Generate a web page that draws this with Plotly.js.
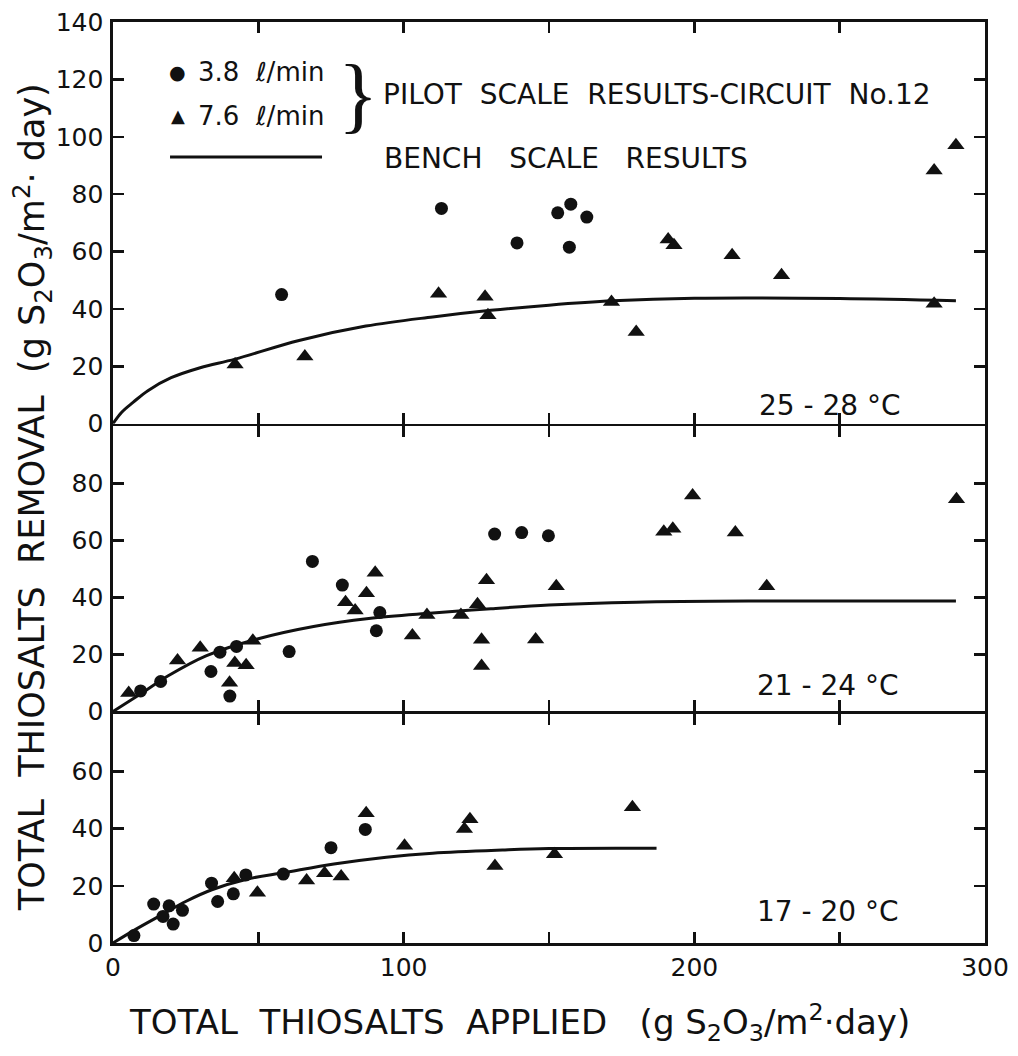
<!DOCTYPE html>
<html>
<head>
<meta charset="utf-8">
<script src="https://cdn.plot.ly/plotly-3.0.1.min.js"></script>
<style>html,body{margin:0;padding:0;background:#fff;}</style>
</head>
<body>
<div id="chart" style="width:1018px;height:1056px;"></div>
<script>
// ---- Panel 1: 25-28 °C ----
const topCircleX = [58, 113, 139, 153, 157.5, 157, 163];
const topCircleY = [45, 75, 63, 73.5, 76.5, 61.5, 72];
const topTriX = [42, 66, 112, 128, 129, 171.5, 180, 191, 193, 213, 230, 282.5, 290, 282.5];
const topTriY = [20.6, 23.4, 45.3, 44.2, 37.8, 42.4, 31.9, 64.2, 62.2, 58.7, 51.7, 88.2, 97, 41.8];
const topBenchX = [0, 3, 7, 12, 20, 30, 42, 64, 87, 110, 130, 150, 172, 200, 250, 290];
const topBenchY = [0, 4, 7.5, 11.5, 16, 19.5, 22.5, 29, 34, 37.2, 39.5, 41.3, 42.8, 43.7, 43.6, 42.8];

// ---- Panel 2: 21-24 °C ----
const midCircleX = [9.5, 16.4, 33.7, 36.8, 42.5, 40.2, 60.6, 68.6, 78.9, 91.8, 90.6, 131.3, 140.6, 149.8];
const midCircleY = [7.2, 10.5, 14, 20.8, 22.8, 5.4, 21, 52.6, 44.3, 34.7, 28.3, 62.2, 62.7, 61.6];
const midTriX = [5.4, 22.2, 30, 40.1, 41.9, 45.8, 48.1, 80, 83.3, 87.2, 90.2, 103, 108, 119.7, 125.4, 128.5, 126.8, 126.8, 145.4, 152.5, 189.5, 192.6, 199.4, 214.1, 224.9, 290.2];
const midTriY = [6.5, 17.9, 22.3, 10.1, 17, 16.2, 24.8, 38.3, 35.4, 41.4, 48.6, 26.6, 33.8, 33.8, 37.6, 46, 25.1, 15.9, 25.2, 43.9, 63, 64.1, 75.7, 62.7, 43.9, 74.4];
const midBenchX = [0, 10, 19, 32, 50, 69, 88, 110, 130, 150, 180, 220, 290];
const midBenchY = [0, 6.5, 12.5, 19.5, 25.5, 29.8, 32.6, 34.5, 36, 37.3, 38.3, 38.7, 38.7];

// ---- Panel 3: 17-20 °C ----
const botCircleX = [7.2, 14, 19.3, 17.2, 20.7, 23.9, 33.9, 36, 41.4, 45.7, 58.6, 75, 86.8];
const botCircleY = [2.6, 13.6, 13, 9.3, 6.6, 11.4, 20.9, 14.5, 17.2, 23.8, 24.1, 33.3, 39.7];
const botTriX = [41.7, 49.7, 66.6, 72.8, 78.5, 87.1, 100.3, 120.9, 122.8, 131.4, 151.9, 178.7];
const botTriY = [22.6, 17.6, 21.8, 24.4, 23.2, 45.3, 34, 39.8, 43.2, 26.9, 31, 47.4];
const botBenchX = [0, 7.5, 17, 25, 34, 46, 59, 76, 94, 110, 134, 150, 187];
const botBenchY = [0, 4.6, 10, 14.5, 18.6, 22.3, 24.6, 27.6, 30, 31.4, 32.5, 33, 33.1];

// ---- Axis ticks ----
const xTickVals = [0, 50, 100, 150, 200, 250, 300];
const xTickText = ['0', '', '100', '', '200', '', '300'];
const topYTicks = [0, 20, 40, 60, 80, 100, 120, 140];
const midYTicks = [0, 20, 40, 60, 80];
const botYTicks = [0, 20, 40, 60];

const FONT = 'DejaVu Sans, Verdana, sans-serif';
const INK = '#111';

function circles(x, y, xa, ya) {
  return {x: x, y: y, xaxis: xa, yaxis: ya, type: 'scatter', mode: 'markers', showlegend: false,
    marker: {symbol: 'circle', size: 13, color: INK}, cliponaxis: false};
}
function tris(x, y, xa, ya) {
  return {x: x, y: y, xaxis: xa, yaxis: ya, type: 'scatter', mode: 'markers', showlegend: false,
    marker: {symbol: 'triangle-up', size: 15, color: INK}, cliponaxis: false};
}
function bench(x, y, xa, ya) {
  return {x: x, y: y, xaxis: xa, yaxis: ya, type: 'scatter', mode: 'lines', showlegend: false,
    line: {color: INK, width: 3, shape: 'spline', smoothing: 1}};
}

const data = [
  bench(topBenchX, topBenchY, 'x', 'y'),
  circles(topCircleX, topCircleY, 'x', 'y'),
  tris(topTriX, topTriY, 'x', 'y'),
  bench(midBenchX, midBenchY, 'x2', 'y2'),
  circles(midCircleX, midCircleY, 'x2', 'y2'),
  tris(midTriX, midTriY, 'x2', 'y2'),
  bench(botBenchX, botBenchY, 'x3', 'y3'),
  circles(botCircleX, botCircleY, 'x3', 'y3'),
  tris(botTriX, botTriY, 'x3', 'y3')
];

const LW = 2.6;
function xAxis(anchor, labels) {
  return {anchor: anchor, range: [0, 300], tickvals: xTickVals, ticktext: xTickText,
    showticklabels: labels, ticks: 'inside', ticklen: 11, tickwidth: 2.5, tickcolor: INK,
    showline: true, linewidth: LW, linecolor: INK, mirror: 'ticks', showgrid: false, zeroline: false,
    tickfont: {family: FONT, size: 25, color: INK}, fixedrange: true};
}
function yAxis(anchor, range, vals, domain) {
  return {anchor: anchor, range: range, tickvals: vals, domain: domain,
    ticks: 'inside', ticklen: 11, tickwidth: 2.5, tickcolor: INK,
    showline: true, linewidth: LW, linecolor: INK, mirror: 'ticks', showgrid: false, zeroline: false,
    tickfont: {family: FONT, size: 25, color: INK}, ticklabelstandoff: 2, fixedrange: true};
}

const ann = (text, x, y, size, xanchor, extra) => Object.assign({
  text: text, x: x, y: y, xref: 'paper', yref: 'paper', showarrow: false,
  xanchor: xanchor || 'center', yanchor: 'middle',
  font: {family: FONT, size: size, color: INK}
}, extra || {});

// half line width in paper units so stacked panel borders coincide
const h = (LW / 2) / 921;

const layout = {
  width: 1018, height: 1056,
  margin: {l: 113, r: 33, t: 22, b: 113},
  paper_bgcolor: '#fff', plot_bgcolor: '#fff',
  xaxis: xAxis('y', false),
  xaxis2: xAxis('y2', false),
  xaxis3: xAxis('y3', true),
  yaxis: yAxis('x', [0, 140], topYTicks, [0.5625 + h, 1]),
  yaxis2: yAxis('x2', [0, 100], midYTicks, [0.25 + h, 0.5625 - h]),
  yaxis3: yAxis('x3', [0, 80], botYTicks, [0, 0.25 - h]),
  showlegend: false,
  shapes: [
    {type: 'line', xref: 'paper', yref: 'paper', x0: 0.0654, x1: 0.2397, y0: 0.8534, y1: 0.8534,
     line: {color: INK, width: 3}}
  ],
  annotations: [
    ann('TOTAL  THIOSALTS  APPLIED   (g S<sub>2</sub>O<sub>3</sub>/m<sup>2</sup>·day)', 0.466, -0.086, 34),
    ann('TOTAL  THIOSALTS  REMOVAL  (g S<sub>2</sub>O<sub>3</sub>/m<sup>2</sup>· day)', -0.093, 0.484, 35, 'center', {textangle: -90}),
    ann('●', 0.0734, 0.9457, 19),
    ann('3.8  ℓ/min', 0.095, 0.9457, 26, 'left'),
    ann('▲', 0.0745, 0.898, 18),
    ann('7.6  ℓ/min', 0.095, 0.898, 26, 'left'),
    ann('}', 0.281, 0.921, 84, 'center', {font: {family: 'Liberation Serif, serif', size: 84, color: INK}}),
    ann('PILOT  SCALE  RESULTS-CIRCUIT  No.12', 0.307, 0.921, 28, 'left'),
    ann('BENCH   SCALE   RESULTS', 0.3085, 0.852, 28, 'left'),
    ann('25 - 28 °C', 0.822, 0.584, 28),
    ann('21 - 24 °C', 0.820, 0.280, 28),
    ann('17 - 20 °C', 0.820, 0.034, 28)
  ]
};

Plotly.newPlot('chart', data, layout, {displayModeBar: false, staticPlot: true});
</script>
</body>
</html>
